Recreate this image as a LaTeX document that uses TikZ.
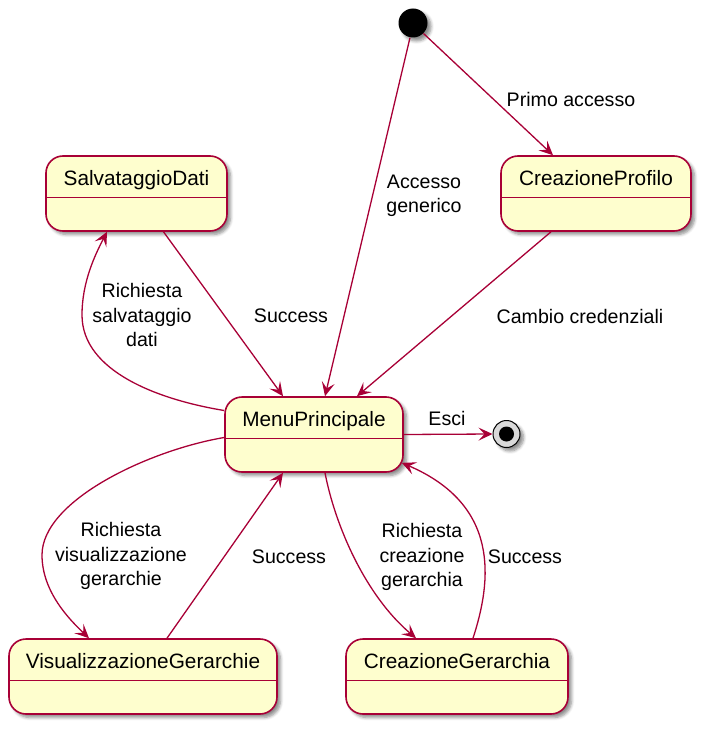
\documentclass[tikz,border=0pt]{standalone}
\usepackage{fontspec}
\setmainfont{Liberation Sans}
\usetikzlibrary{arrows.meta,calc,shadows.blur}
\definecolor{umlred}{HTML}{A80036}
\definecolor{umlfill}{HTML}{FEFECE}
\tikzset{
  sh/.style={blur shadow={shadow xshift=3.5pt,shadow yshift=-3.5pt,shadow blur steps=6,shadow blur radius=3pt,shadow opacity=45}},
  statebox/.style={draw=umlred,fill=umlfill,line width=1.6pt,rounded corners=17pt,minimum height=75pt,inner sep=0pt,sh},
  divider/.style={draw=umlred,line width=1.4pt},
  title/.style={anchor=base,inner sep=0pt,font=\fontsize{20.8}{24}\selectfont},
  lbl/.style={align=center,inner sep=0pt,font=\fontsize{19.6}{24.5}\selectfont},
  edge/.style={draw=umlred,line width=1.3pt,-{Stealth[length=14pt,width=13pt,inset=6pt]}},
}
\newcommand{\umlstate}[5]{%
  \node[statebox,minimum width=#4pt] (#1) at (#2,#3+37.5) {};
  \draw[divider] (#1.west |- 0,#3+41.5) -- (#1.east |- 0,#3+41.5);
  \node[title] (#1t) at (#2,#3+29.5) {#5};
}
\begin{document}
\begin{tikzpicture}[x=1pt,y=-1pt]
\useasboundingbox (0,0) rectangle (707,733);
% start and end
\node[circle,fill=black,minimum size=29pt,inner sep=0pt,sh] (start) at (413,23) {};
\node[circle,draw=black,line width=1pt,fill=gray!30,minimum size=27pt,inner sep=0pt,sh] (end) at (506.5,434) {};
\node[circle,fill=black,minimum size=15pt,inner sep=0pt] (endin) at (end.center) {};
% states
\umlstate{sd}{136.5}{156}{181}{SalvataggioDati}
\umlstate{cp}{596}{156}{190}{CreazioneProfilo}
\umlstate{mp}{314}{397}{178}{MenuPrincipale}
\umlstate{vg}{143}{639}{268}{VisualizzazioneGerarchie}
\umlstate{cg}{457}{639}{222}{CreazioneGerarchia}
% edges
\draw[edge] ([xshift=-3pt]start.south) -- ([xshift=11pt]mp.north);
\draw[edge] (start.south east) -- ([xshift=-43pt]cp.north);
\draw[edge] ([xshift=-45pt]cp.south) -- ([xshift=43pt]mp.north);
\draw[edge] ([xshift=27pt]sd.south) -- ([xshift=-31pt]mp.north);
\draw[edge] ([yshift=24pt]mp.west) .. controls (160,400) and (82,372) .. (82,315) .. controls (82,282) and (95,255) .. ([xshift=-29.5pt]sd.south);
\draw[edge] (mp.east) -- (end.west);
\draw[edge] ([yshift=-3pt]mp.west) .. controls (150,450) and (42,500) .. (42,555) .. controls (42,592) and (70,620) .. ([xshift=-54pt]vg.north);
\draw[edge] ([xshift=24pt]vg.north) -- ([xshift=-31pt]mp.south);
\draw[edge] ([xshift=11pt]mp.south) .. controls (335,525) and (365,595) .. ([xshift=-41pt]cg.north);
\draw[edge] ([xshift=16pt]cg.north) .. controls (492,580) and (500,505) .. ([xshift=-2pt,yshift=10pt]mp.south east);
% labels
\node[lbl] (l1) at (424,196) {Accesso\\generico};
\node[lbl] (l2) at (571,99) {Primo accesso};
\node[lbl] (l3) at (580,316) {Cambio credenziali};
\node[lbl] (l4) at (291,316) {Success};
\node[lbl] (l5) at (142,315) {Richiesta\\salvataggio\\dati};
\node[lbl] (l6) at (447,418) {Esci};
\node[lbl] (l7) at (121,556) {Richiesta\\visualizzazione\\gerarchie};
\node[lbl] (l8) at (289,557) {Success};
\node[lbl] (l9) at (422,557) {Richiesta\\creazione\\gerarchia};
\node[lbl] (l10) at (525,557) {Success};
\end{tikzpicture}
\end{document}
